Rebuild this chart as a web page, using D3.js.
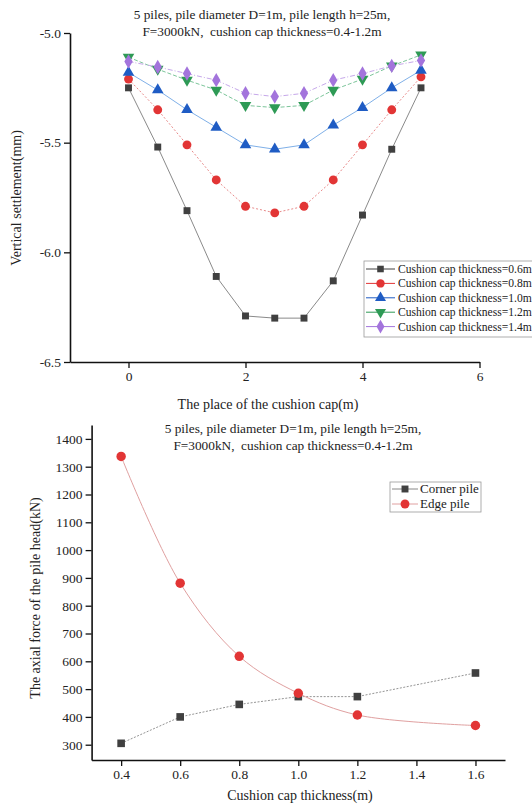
<!DOCTYPE html>
<html>
<head>
<meta charset="utf-8">
<script src="https://cdn.jsdelivr.net/npm/d3@7"></script>
<style>
    body { margin: 0; background: #fff; }
    svg { display: block; font-family: "Liberation Serif", "DejaVu Serif", serif; }
    text { white-space: pre; }
</style>
</head>
<body>
<svg id="chart" width="532" height="805"></svg>
<script>
    // top chart: settlement along the cap
    let positions = [0, 0.5, 1, 1.5, 2, 2.5, 3, 3.5, 4, 4.5, 5]
    let thick06 = [-5.25, -5.52, -5.81, -6.11, -6.29, -6.30, -6.30, -6.13, -5.83, -5.53, -5.25]
    let thick08 = [-5.21, -5.35, -5.51, -5.67, -5.79, -5.82, -5.79, -5.67, -5.51, -5.35, -5.20]
    let thick10 = [-5.18, -5.26, -5.35, -5.43, -5.51, -5.53, -5.51, -5.42, -5.34, -5.25, -5.17]
    let thick12 = [-5.11, -5.165, -5.215, -5.26, -5.33, -5.34, -5.33, -5.26, -5.21, -5.15, -5.10]
    let thick14 = [-5.13, -5.155, -5.185, -5.215, -5.275, -5.29, -5.275, -5.215, -5.185, -5.15, -5.125]
    let topNames = ["Cushion cap thickness=0.6m", "Cushion cap thickness=0.8m",
        "Cushion cap thickness=1.0m", "Cushion cap thickness=1.2m", "Cushion cap thickness=1.4m"]
    let topTicksX = [0, 2, 4, 6]
    let topTicksY = [-5.0, -5.5, -6.0, -6.5]

    // bottom chart: axial force vs thickness
    let thickness = [0.4, 0.6, 0.8, 1.0, 1.2, 1.6]
    let cornerPile = [305, 400, 445, 473, 473, 558]
    let edgePile = [1337, 881, 618, 485, 407, 369]
    let bottomNames = ["Corner pile", "Edge pile"]
    let bottomTicksX = [0.4, 0.6, 0.8, 1.0, 1.2, 1.4, 1.6]
    let bottomTicksY = [300, 400, 500, 600, 700, 800, 900, 1000, 1100, 1200, 1300, 1400]

    let title1 = "5 piles, pile diameter D=1m, pile length h=25m,"
    let title2 = "F=3000kN,  cushion cap thickness=0.4-1.2m"

    let svg = d3.select("#chart")

    function drawAxes(g, xScale, yScale, xMajor, xMinor, yMajor, yMinor, xFmt, yFmt) {
        let xAxis = g.append("g")
            .attr("transform", "translate(0," + yScale.range()[0] + ")")
        xAxis.call(d3.axisBottom(xScale).tickValues(xMinor).tickSize(3).tickFormat(""))
        xAxis.call(d3.axisBottom(xScale).tickValues(xMajor).tickSize(6).tickSizeOuter(0).tickFormat(xFmt))
        let yAxis = g.append("g")
            .attr("transform", "translate(" + xScale.range()[0] + ",0)")
        yAxis.call(d3.axisLeft(yScale).tickValues(yMinor).tickSize(3).tickFormat(""))
        yAxis.call(d3.axisLeft(yScale).tickValues(yMajor).tickSize(6).tickSizeOuter(0).tickFormat(yFmt))
        g.selectAll(".domain").attr("stroke", "#111").attr("stroke-width", 1.6)
        g.selectAll(".tick line").attr("stroke", "#111").attr("stroke-width", 1.3)
        g.selectAll(".tick text").attr("fill", "#222").attr("font-size", 13.5)
            .attr("font-family", "Liberation Serif")
    }

    function drawTitle(x, y) {
        svg.append("text").attr("x", x).attr("y", y).attr("text-anchor", "middle")
            .attr("font-size", 13.3).attr("fill", "#222").text(title1)
        svg.append("text").attr("x", x).attr("y", y + 17).attr("text-anchor", "middle")
            .attr("font-size", 13.3).attr("fill", "#222").text(title2)
    }

    // ---------- top chart ----------
    let x1 = d3.scaleLinear().domain([-1, 6]).range([70, 479.5])
    let y1 = d3.scaleLinear().domain([-6.5, -5.0]).range([362, 33])
    let topG = svg.append("g")

    drawAxes(topG, x1, y1, topTicksX, [-1, 1, 3, 5], topTicksY, [-5.25, -5.75, -6.25],
        d => d, d => d.toFixed(1))
    drawTitle(262, 19)

    topG.append("text").attr("x", 268).attr("y", 409).attr("text-anchor", "middle")
        .attr("font-size", 14).attr("fill", "#222").text("The place of the cushion cap(m)")
    topG.append("text").attr("transform", "translate(21,198) rotate(-90)").attr("text-anchor", "middle")
        .attr("font-size", 14).attr("fill", "#222").text("Vertical settlement(mm)")

    let topSeries = [
        { vals: thick06, color: "#404040", line: "#8a8a8a", dash: null, sym: d3.symbolSquare, size: 48, rot: 0 },
        { vals: thick08, color: "#e23535", line: "#e88a8a", dash: "2,2", sym: d3.symbolCircle, size: 62, rot: 0 },
        { vals: thick10, color: "#1f5cc4", line: "#7fb0e8", dash: null, sym: d3.symbolTriangle, size: 58, rot: 0 },
        { vals: thick12, color: "#2e9a55", line: "#7cc59a", dash: "4,2", sym: d3.symbolTriangle, size: 58, rot: 180 },
        { vals: thick14, color: "#a374dc", line: "#c6a8ea", dash: "5,2,1,2", sym: d3.symbolDiamond, size: 60, rot: 0 }
    ]

    let line1 = d3.line().x(d => x1(d[0])).y(d => y1(d[1]))
    topSeries.forEach(s => {
        let pts = positions.map((p, i) => [p, s.vals[i]])
        topG.append("path").datum(pts).attr("d", line1).attr("fill", "none")
            .attr("stroke", s.line).attr("stroke-width", 1).attr("stroke-dasharray", s.dash)
    })
    topSeries.forEach(s => {
        let pts = positions.map((p, i) => [p, s.vals[i]])
        topG.selectAll(null).data(pts).enter().append("path")
            .attr("d", d3.symbol().type(s.sym).size(s.size))
            .attr("transform", d => "translate(" + x1(d[0]) + "," + y1(d[1]) + ") rotate(" + s.rot + ")")
            .attr("fill", s.color)
    })

    // legend
    let leg1 = topG.append("g").attr("transform", "translate(364,261)")
    leg1.append("rect").attr("width", 180).attr("height", 76).attr("fill", "#fff")
        .attr("stroke", "#999").attr("stroke-width", 0.8)
    topSeries.forEach((s, i) => {
        let yy = 8 + i * 14.4
        leg1.append("line").attr("x1", 2).attr("x2", 31).attr("y1", yy).attr("y2", yy)
            .attr("stroke", s.color).attr("stroke-width", 1)
        leg1.append("path").attr("d", d3.symbol().type(s.sym).size(s.size * 0.9))
            .attr("transform", "translate(16.5," + yy + ") rotate(" + s.rot + ")").attr("fill", s.color)
        leg1.append("text").attr("x", 34).attr("y", yy + 4).attr("font-size", 11.6)
            .attr("fill", "#222").text(topNames[i])
    })

    // ---------- bottom chart ----------
    let x2 = d3.scaleLinear().domain([0.3, 1.7]).range([91.6, 505])
    let y2 = d3.scaleLinear().domain([245, 1450]).range([760, 425])
    let botG = svg.append("g")

    drawAxes(botG, x2, y2, bottomTicksX, [0.5, 0.7, 0.9, 1.1, 1.3, 1.5, 1.7],
        bottomTicksY, [350, 450, 550, 650, 750, 850, 950, 1050, 1150, 1250, 1350, 1450],
        d => d.toFixed(1), d => d)
    drawTitle(293, 433)

    botG.append("text").attr("x", 300).attr("y", 800).attr("text-anchor", "middle")
        .attr("font-size", 14).attr("fill", "#222").text("Cushion cap thickness(m)")
    botG.append("text").attr("transform", "translate(40,598) rotate(-90)").attr("text-anchor", "middle")
        .attr("font-size", 14).attr("fill", "#222").text("The axial force of the pile head(kN)")

    let cornerPts = thickness.map((t, i) => [t, cornerPile[i]])
    let edgePts = thickness.map((t, i) => [t, edgePile[i]])

    botG.append("path").datum(cornerPts)
        .attr("d", d3.line().x(d => x2(d[0])).y(d => y2(d[1])))
        .attr("fill", "none").attr("stroke", "#888").attr("stroke-width", 0.9).attr("stroke-dasharray", "2,1.5")
    botG.append("path").datum(edgePts)
        .attr("d", d3.line().curve(d3.curveCatmullRom).x(d => x2(d[0])).y(d => y2(d[1])))
        .attr("fill", "none").attr("stroke", "#e0a0a0").attr("stroke-width", 1)

    botG.selectAll(null).data(cornerPts).enter().append("path")
        .attr("d", d3.symbol().type(d3.symbolSquare).size(58))
        .attr("transform", d => "translate(" + x2(d[0]) + "," + y2(d[1]) + ")")
        .attr("fill", "#404040")
    botG.selectAll(null).data(edgePts).enter().append("path")
        .attr("d", d3.symbol().type(d3.symbolCircle).size(70))
        .attr("transform", d => "translate(" + x2(d[0]) + "," + y2(d[1]) + ")")
        .attr("fill", "#e23535")

    let leg2 = botG.append("g").attr("transform", "translate(390,482)")
    leg2.append("rect").attr("width", 91).attr("height", 30).attr("fill", "#fff")
        .attr("stroke", "#999").attr("stroke-width", 0.8)
    let legSyms = [
        { sym: d3.symbolSquare, color: "#404040", line: "#888", size: 48 },
        { sym: d3.symbolCircle, color: "#e23535", line: "#e0a0a0", size: 62 }
    ]
    legSyms.forEach((s, i) => {
        let yy = 7 + i * 15
        leg2.append("line").attr("x1", 2).attr("x2", 28).attr("y1", yy).attr("y2", yy)
            .attr("stroke", s.line).attr("stroke-width", 1)
        leg2.append("path").attr("d", d3.symbol().type(s.sym).size(s.size))
            .attr("transform", "translate(15," + yy + ")").attr("fill", s.color)
        leg2.append("text").attr("x", 30).attr("y", yy + 4).attr("font-size", 13)
            .attr("fill", "#222").text(bottomNames[i])
    })
</script>
</body>
</html>
